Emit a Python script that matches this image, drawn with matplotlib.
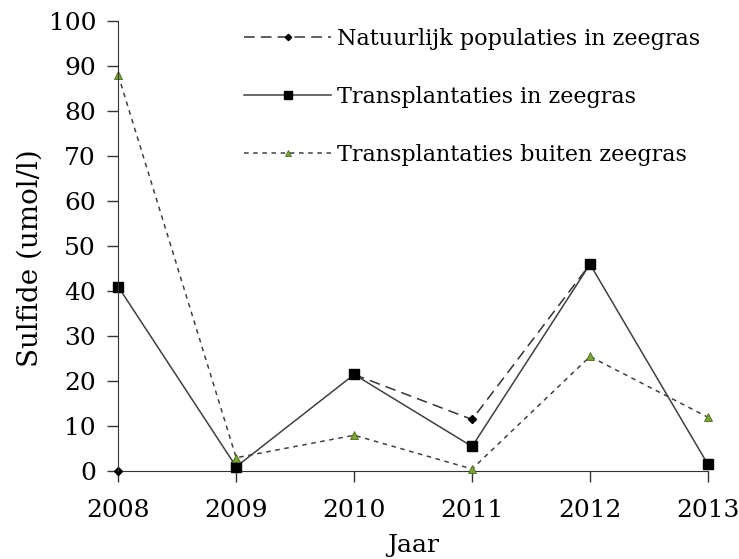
import numpy as np
import matplotlib.pyplot as plt

plt.rcParams['font.family'] = ['DejaVu Serif']

jaren = [2008, 2009, 2010, 2011, 2012, 2013]
natuurlijk = [0, np.nan, 21.5, 11.5, 46, np.nan]
transpl_in = [41, 1, 21.5, 5.5, 46, 1.5]
transpl_buiten = [88, 3, 8, 0.5, 25.5, 12]

fig = plt.figure(figsize=(7.39, 5.59), dpi=100)
ax = fig.add_axes([0.16, 0.157, 0.798, 0.805])

ax.plot(jaren, natuurlijk, color='#333333', lw=1.1, ls=(0, (7, 4)),
        marker='D', ms=4, mfc='black', mec='black',
        label='Natuurlijk populaties in zeegras')
ax.plot(jaren, transpl_in, color='#404040', lw=1.1, ls='-',
        marker='s', ms=7, mfc='black', mec='black',
        label='Transplantaties in zeegras')
ax.plot(jaren, transpl_buiten, color='#404040', lw=1.1, ls=(0, (3, 3)),
        marker='^', ms=6, mfc='#7aa238', mec='#4d6b1e', mew=0.6,
        label='Transplantaties buiten zeegras')

ax.set_xlim(2008, 2013)
ax.set_ylim(0, 100)
ax.set_yticks(range(0, 101, 10))
ax.set_xticks(jaren)
ax.set_xlabel('Jaar', fontsize=18)
ax.set_ylabel('Sulfide (umol/l)', fontsize=20)
ax.xaxis.set_label_coords(0.5, -0.14)
ax.yaxis.set_label_coords(-0.127, 0.473)
ax.tick_params(labelsize=18, direction='out', length=8, width=1, color='#333333', pad=8)
ax.tick_params(axis='x', pad=12)
for side in ['top', 'right']:
    ax.spines[side].set_visible(False)
for side in ['left', 'bottom']:
    ax.spines[side].set_color('#333333')
ax.spines['bottom'].set_zorder(0)

ax.legend(loc='upper right', bbox_to_anchor=(1.02, 1.03), frameon=False,
          fontsize=16, handlelength=3.9, labelspacing=1.62, handletextpad=0.25,
          markerscale=0.8)

for line in ax.lines:
    line.set_clip_on(False)

fig.savefig('out.png', dpi=100)
